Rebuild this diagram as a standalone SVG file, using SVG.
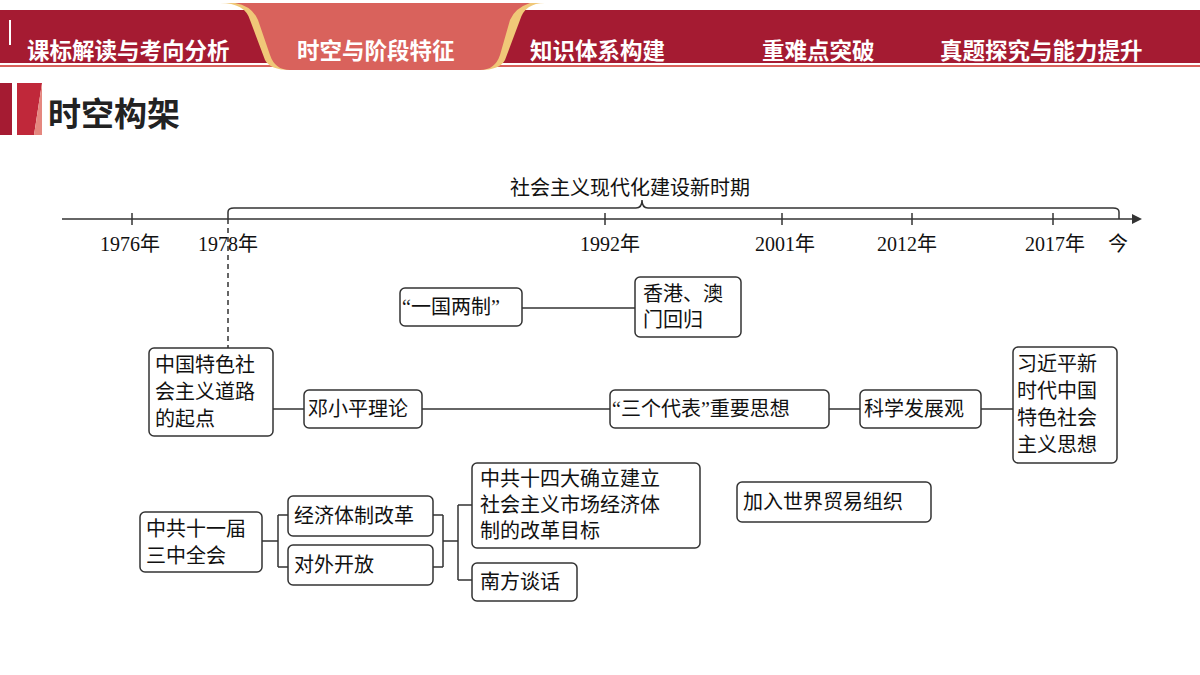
<svg xmlns="http://www.w3.org/2000/svg" width="1200" height="675" viewBox="0 0 1200 675">
<style>
.t{font-family:"Liberation Serif","Noto Sans CJK SC",serif;font-size:20px;fill:#111}
.h{font-family:"Noto Sans CJK SC",sans-serif;font-size:22.5px;font-weight:bold;fill:#fff}
.b{fill:#fff;stroke:#333;stroke-width:1.5}
.l{fill:none;stroke:#333;stroke-width:1.5}
</style>
<rect x="0" y="0" width="1200" height="675" fill="#fff"/>
<rect x="0" y="10" width="1200" height="53" fill="#a51b32"/>
<rect x="0" y="65" width="1200" height="2" fill="#d9625c"/>
<path d="M220 3 Q245 3 250 20 L265 60 Q270 70 290 70 L480 70 Q500 70 505 60 L520 20 Q525 3 545 3 Z" fill="#f0c878"/>
<path d="M235 3 L530 3 Q515 8 510 20 L500 55 Q495 70 480 70 L290 70 Q275 70 270 55 L258 20 Q252 6 235 3 Z" fill="#d9625c"/>
<rect x="9" y="20" width="2" height="25" fill="#fff"/>
<text class="h" x="27" y="59">课标解读与考向分析</text>
<text class="h" x="297" y="59">时空与阶段特征</text>
<text class="h" x="530" y="59">知识体系构建</text>
<text class="h" x="762" y="59">重难点突破</text>
<text class="h" x="940" y="59">真题探究与能力提升</text>
<rect x="0" y="83" width="12" height="52" fill="#a51b32"/>
<path d="M17 83 L42 83 L34 135 L17 135 Z" fill="#c0283a"/>
<path d="M34 135 L42 83 L42 135 Z" fill="#e5877f"/>
<text x="48" y="126" style="font-family:'Noto Sans CJK SC',sans-serif;font-size:33px;font-weight:bold;fill:#222">时空构架</text>
<g id="connectors">
<line class="l" x1="62" y1="219" x2="1132" y2="219"/>
<path d="M1132 214 L1142 219 L1132 224 Z" fill="#333"/>
<g class="l"><line x1="132" y1="213" x2="132" y2="225"/><line x1="605" y1="213" x2="605" y2="225"/><line x1="782" y1="213" x2="782" y2="225"/><line x1="912" y1="213" x2="912" y2="225"/><line x1="1053" y1="213" x2="1053" y2="225"/></g>
<path class="l" d="M228 219 L228 212 Q228 208 234 208 L636 208 Q642 208 642 200 Q642 208 648 208 L1113 208 Q1119 208 1119 212 L1119 219"/>
<line class="l" x1="228" y1="219" x2="228" y2="348" stroke-dasharray="5,4"/>
<line class="l" x1="522" y1="308" x2="635" y2="308"/>
<line class="l" x1="273" y1="409" x2="304" y2="409"/>
<line class="l" x1="422" y1="409" x2="610" y2="409"/>
<line class="l" x1="829" y1="409" x2="860" y2="409"/>
<line class="l" x1="981" y1="409" x2="1013" y2="409"/>
<path class="l" d="M262 541 H278 M278 515 V567 M278 515 H288 M278 567 H288 M433 515 H443 M433 567 H443 M443 515 V567 M443 541 H458 M458 505 V580 M458 505 H472 M458 580 H472"/>
</g>
<g id="labels">
<text class="t" x="100" y="251">1976年</text>
<text class="t" x="198" y="251">1978年</text>
<text class="t" x="580" y="251">1992年</text>
<text class="t" x="755" y="251">2001年</text>
<text class="t" x="877" y="251">2012年</text>
<text class="t" x="1025" y="251">2017年</text>
<text class="t" x="1108" y="251">今</text>
<text class="t" x="510" y="195">社会主义现代化建设新时期</text>
</g>
<g id="n1"><rect class="b" x="400" y="288" width="122" height="38" rx="5"/><text class="t" x="402" y="314">“一国两制”</text></g>
<g id="n2"><rect class="b" x="635" y="277" width="106" height="60" rx="5"/><text class="t" x="643" y="301">香港、澳</text><text class="t" x="643" y="327">门回归</text></g>
<g id="n3"><rect class="b" x="149" y="348" width="124" height="88" rx="5"/><text class="t" x="155" y="372">中国特色社</text><text class="t" x="155" y="399">会主义道路</text><text class="t" x="155" y="426">的起点</text></g>
<g id="n4"><rect class="b" x="304" y="390" width="118" height="38" rx="5"/><text class="t" x="308" y="416">邓小平理论</text></g>
<g id="n5"><rect class="b" x="610" y="390" width="219" height="38" rx="5"/><text class="t" x="612" y="416">“三个代表”重要思想</text></g>
<g id="n6"><rect class="b" x="860" y="390" width="121" height="38" rx="5"/><text class="t" x="864" y="416">科学发展观</text></g>
<g id="n7"><rect class="b" x="1013" y="347" width="104" height="116" rx="5"/><text class="t" x="1017" y="371">习近平新</text><text class="t" x="1017" y="398">时代中国</text><text class="t" x="1017" y="425">特色社会</text><text class="t" x="1017" y="452">主义思想</text></g>
<g id="n8"><rect class="b" x="140" y="512" width="122" height="60" rx="5"/><text class="t" x="146" y="536">中共十一届</text><text class="t" x="146" y="563">三中全会</text></g>
<g id="n9"><rect class="b" x="288" y="496" width="145" height="40" rx="5"/><text class="t" x="294" y="523">经济体制改革</text></g>
<g id="n10"><rect class="b" x="288" y="545" width="145" height="40" rx="5"/><text class="t" x="294" y="572">对外开放</text></g>
<g id="n11"><rect class="b" x="472" y="463" width="228" height="85" rx="5"/><text class="t" x="480" y="486">中共十四大确立建立</text><text class="t" x="480" y="512">社会主义市场经济体</text><text class="t" x="480" y="538">制的改革目标</text></g>
<g id="n12"><rect class="b" x="472" y="563" width="105" height="38" rx="5"/><text class="t" x="480" y="589">南方谈话</text></g>
<g id="n13"><rect class="b" x="737" y="482" width="194" height="40" rx="5"/><text class="t" x="743" y="509">加入世界贸易组织</text></g>
</svg>
